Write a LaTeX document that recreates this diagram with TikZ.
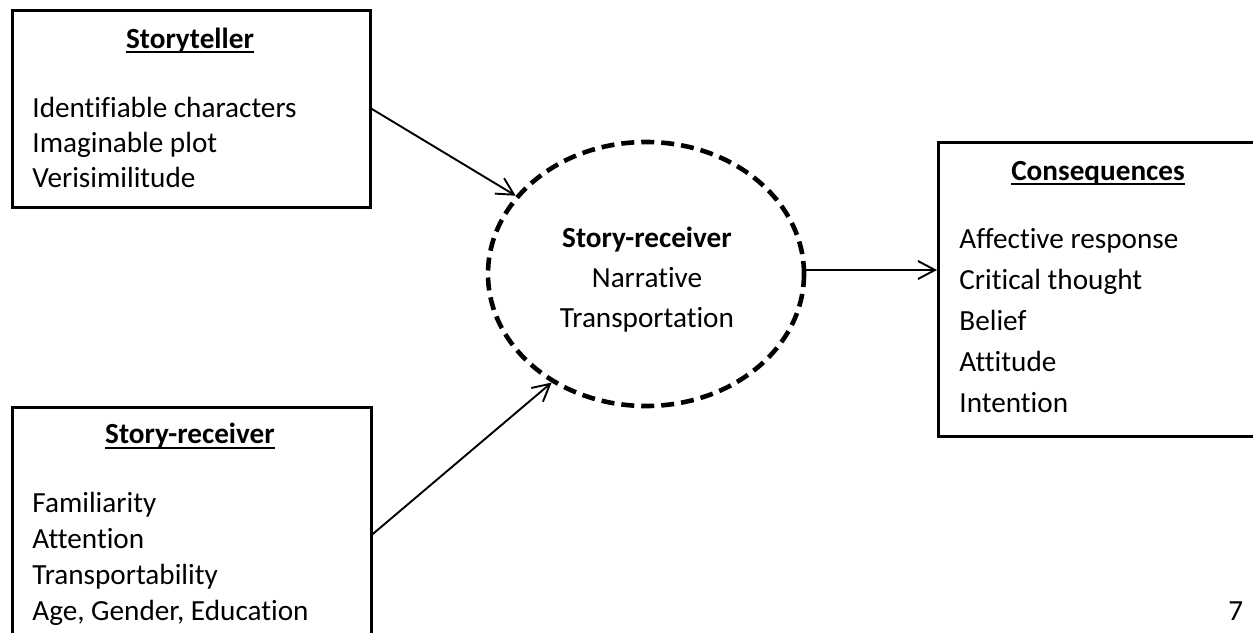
\documentclass[tikz,border=0pt]{standalone}
\usepackage{fontspec}
\setmainfont{Carlito}[Ligatures=NoCommon]
\usetikzlibrary{arrows.meta,shapes.geometric}
\begin{document}
\begin{tikzpicture}[x=0.5pt,y=-0.5pt,
  box/.style={draw, line width=1.25pt, inner sep=0pt, anchor=north west},
  txt/.style={inner sep=0pt, anchor=base west, font=\fontsize{14.6}{17}\selectfont},
  ctxt/.style={inner sep=0pt, anchor=base, font=\fontsize{14.6}{17}\selectfont},
  ttl/.style={inner sep=0pt, anchor=base, font=\fontsize{14.6}{17}\selectfont\bfseries},
  arr/.style={line width=0.95pt, -{Straight Barb[length=8.5pt,width=9pt]}},
  uline/.style={line width=1pt},
  dashell/.style={ellipse, draw, line width=2.3pt, dash pattern=on 6.5pt off 3.5pt, inner sep=0pt}]
\clip (0,0) rectangle (1253,632);
\fill[white] (0,0) rectangle (1253,632);
% boxes
\node[box, minimum width=179pt, minimum height=98.5pt] (st) at (11,9) {};
\node[box, minimum width=179.5pt, minimum height=127pt] (rc) at (11,406) {};
\node[box, minimum width=166.5pt, minimum height=147pt] (cq) at (937,141) {};
\node[dashell, minimum width=158pt, minimum height=132pt] (sr) at (646,274) {};
% Storyteller
\node[ttl] (st-t) at (190,48) {Storyteller};
\draw[uline] ([yshift=-2pt]st-t.base west) -- ([yshift=-2pt]st-t.base east);
\node[txt] (st-1) at (32,117) {Identifiable characters};
\node[txt] (st-2) at (32,152) {Imaginable plot};
\node[txt] (st-3) at (32,187) {Verisimilitude};
% Story-receiver box
\node[ttl] (rc-t) at (190,443) {Story-receiver};
\draw[uline] ([yshift=-2.5pt]rc-t.base west) -- ([yshift=-2.5pt]rc-t.base east);
\node[txt] (rc-1) at (32,512) {Familiarity};
\node[txt] (rc-2) at (32,548) {Attention};
\node[txt] (rc-3) at (32,584) {Transportability};
\node[txt] (rc-4) at (32,620) {Age, Gender, Education};
% Ellipse text
\node[ttl] (sr-t) at (647,247) {Story-receiver};
\node[ctxt] (sr-1) at (647,287) {Narrative};
\node[ctxt] (sr-2) at (647,327) {Transportation};
% Consequences
\node[ttl] (cq-t) at (1098,180) {Consequences};
\draw[uline] ([yshift=-2pt]cq-t.base west) -- ([yshift=-2pt]cq-t.base east);
\node[txt] (cq-1) at (959,248) {Affective response};
\node[txt] (cq-2) at (959,289) {Critical thought};
\node[txt] (cq-3) at (959,330) {Belief};
\node[txt] (cq-4) at (959,371) {Attitude};
\node[txt] (cq-5) at (959,412) {Intention};
% page number
\node[txt] (pg) at (1228,620) {7};
% arrows
\draw[arr] (st.east) -- (sr.149);
\draw[arr] (rc.east) -- (sr.229);
\draw[arr] ([yshift=2pt]sr.east) -- ([yshift=2pt]sr.east -| cq.west);
\end{tikzpicture}
\end{document}
